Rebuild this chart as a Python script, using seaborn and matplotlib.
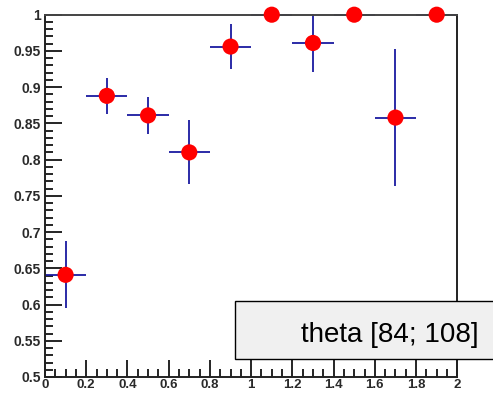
import matplotlib
matplotlib.use("Agg")
import matplotlib.pyplot as plt
from matplotlib.patches import Rectangle
from matplotlib.ticker import MultipleLocator, FuncFormatter
import seaborn as sns
import pandas as pd

# data
theta_x = [0.1, 0.3, 0.5, 0.7, 0.9, 1.1, 1.3, 1.5, 1.7, 1.9]
efficiency = [0.641, 0.888, 0.861, 0.810, 0.956, 1.0, 0.961, 1.0, 0.858, 1.0]
eff_err = [0.046, 0.025, 0.026, 0.044, 0.031, 0.0, 0.040, 0.0, 0.094, 0.0]
x_err = [0.1] * 10
legend_label = "theta [84; 108]"

df = pd.DataFrame({"x": theta_x, "y": efficiency, "yerr": eff_err, "xerr": x_err})

sns.set_style("ticks")
plt.rcParams["font.family"] = ["Liberation Sans", "DejaVu Sans"]

fig = plt.figure(figsize=(4.93, 3.93), dpi=100)
ax = fig.add_axes([45 / 493, 1 - 377 / 393, (457.3 - 45) / 493, (377 - 14.7) / 393])

ax.errorbar(df["x"], df["y"], yerr=df["yerr"], xerr=df["xerr"], fmt="none",
            ecolor="#1a1aa0", elinewidth=1.3, capsize=0, zorder=2, clip_on=False)
sns.scatterplot(data=df, x="x", y="y", ax=ax, color="#ff0000", s=135,
                edgecolor="none", zorder=3, clip_on=False, legend=False)

ax.set_xlim(0, 2)
ax.set_ylim(0.5, 1.0)
ax.xaxis.set_major_locator(MultipleLocator(0.2))
ax.xaxis.set_minor_locator(MultipleLocator(0.05))
ax.yaxis.set_major_locator(MultipleLocator(0.05))
ax.yaxis.set_minor_locator(MultipleLocator(0.01))

def fmt(v, pos):
    s = ("%.2f" % v).rstrip("0").rstrip(".")
    return s
ax.xaxis.set_major_formatter(FuncFormatter(fmt))
ax.yaxis.set_major_formatter(FuncFormatter(fmt))

ax.tick_params(axis="y", which="major", direction="in", length=12, width=1.2,
               labelsize=10, pad=3, right=False, color="black")
ax.tick_params(axis="x", which="major", direction="in", length=12, width=1.2,
               labelsize=9.5, pad=1.5, top=False, color="black")
ax.tick_params(axis="both", which="minor", direction="in", length=6, width=1.2,
               top=False, right=False, color="black")
for lbl in ax.get_xticklabels() + ax.get_yticklabels():
    lbl.set_fontweight("bold")
    lbl.set_color("#2a2a2a")

for sp in ax.spines.values():
    sp.set_visible(True)
    sp.set_color("#222222")
    sp.set_linewidth(1.4)
ax.spines["top"].set_color("#444444")

ax.set_xlabel("")
ax.set_ylabel("")

box = Rectangle((235 / 493, 1 - 359.3 / 393), 0.6, 58.6 / 393, transform=fig.transFigure,
                facecolor="#f0f0f0", edgecolor="black", linewidth=1.0, zorder=10)
fig.add_artist(box)
fig.text(479 / 493, 1 - 335 / 393, legend_label, ha="right", va="center",
         fontsize=20, color="black", zorder=11)

fig.savefig("out.png", dpi=100)
